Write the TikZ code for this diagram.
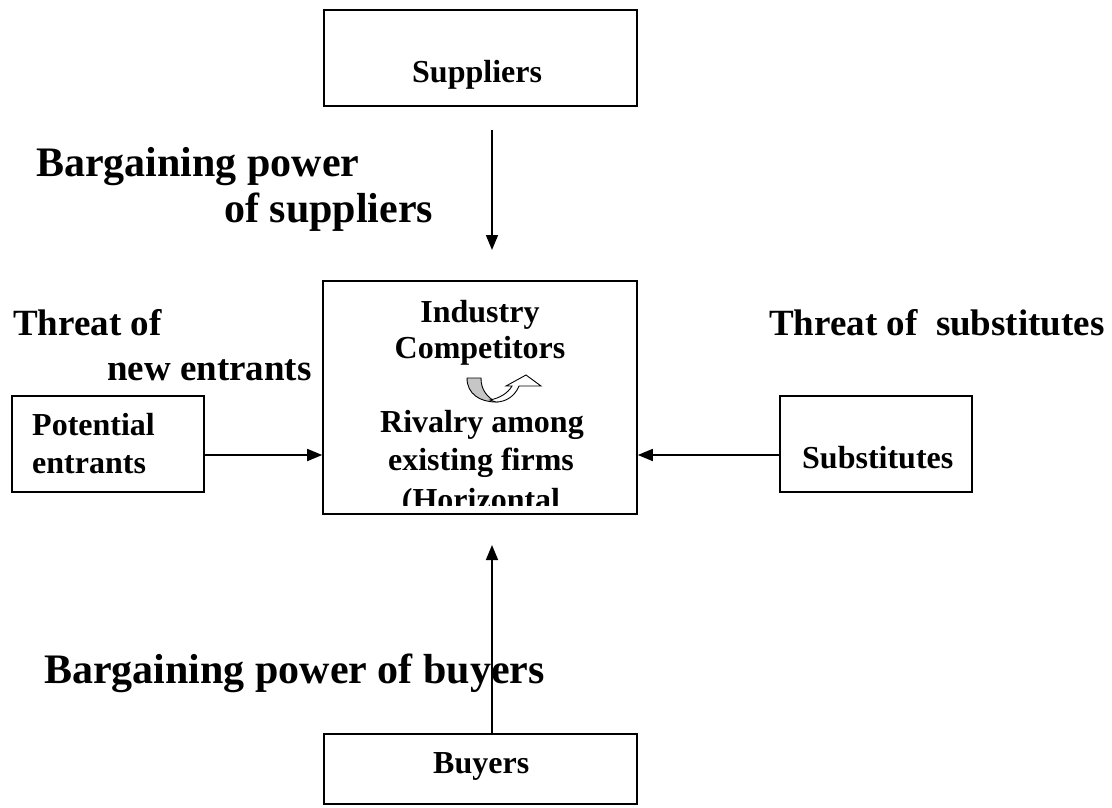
\documentclass[tikz,border=0pt]{standalone}
\usepackage{fontspec}
\setmainfont{Liberation Serif}
\usetikzlibrary{arrows.meta}
\tikzset{
  box/.style={draw, line width=1.6pt, inner sep=0pt},
  small/.style={font=\fontsize{32}{37}\selectfont\bfseries, inner sep=0pt},
  big/.style={font=\fontsize{42}{48}\selectfont\bfseries, inner sep=0pt, anchor=base west},
  mid/.style={font=\fontsize{37}{43}\selectfont\bfseries, inner sep=0pt, anchor=base west},
  arr/.style={line width=1.6pt, -{Triangle[length=15pt,width=12pt]}},
}
\begin{document}
\begin{tikzpicture}[x=1pt,y=-1pt]
\useasboundingbox[fill=white] (0,0) rectangle (1112,807);
% boxes
\node[box, minimum width=313pt, minimum height=96pt] (sup) at (480.5,58) {};
\node[box, minimum width=314pt, minimum height=233pt] (comp) at (480,397.5) {};
\node[box, minimum width=192pt, minimum height=96pt] (pot) at (108,444) {};
\node[box, minimum width=192pt, minimum height=96pt] (subs) at (876,444) {};
\node[box, minimum width=313pt, minimum height=70pt] (buy) at (480.5,769) {};
% box texts
\node[small, anchor=base west] (tsup) at (412,82) {Suppliers};
\node[small, anchor=base west] (tpot1) at (32,435) {Potential};
\node[small, anchor=base west] (tpot2) at (32,473) {entrants};
\node[small, anchor=base west] (tsubs) at (802,468) {Substitutes};
\node[small, anchor=base west] (tbuy) at (433,773) {Buyers};
\begin{scope}
\clip (323,281) rectangle (637,505);
\node[small, anchor=base] (c1) at (480,322) {Industry};
\node[small, anchor=base] (c2) at (480,358) {Competitors};
\node[small, anchor=base] (c3) at (482,432) {Rivalry among};
\node[small, anchor=base] (c4) at (481,470) {existing firms};
\node[small, anchor=base] (c5) at (481,510) {(Horizontal};
\end{scope}
% curved arrow icon
\filldraw[fill=gray!45, line width=0.9pt] (467,378) .. controls (467,394) and (480,402) .. (496,402)
  .. controls (487,397) and (481,390) .. (481,378) -- cycle;
\filldraw[fill=white, line width=0.9pt] (490,400) .. controls (500,398) and (508,393) .. (512,386)
  -- (506,386) -- (526,375) -- (541,386) -- (519,386)
  .. controls (515,396) and (506,402) .. (496,402) -- cycle;
% big labels
\node[big] (bps1) at (36,176) {Bargaining power};
\node[big] (bps2) at (224,222) {of suppliers};
\node[mid] (tn1) at (13,335) {Threat of};
\node[mid] (tn2) at (107,380) {new entrants};
\node[mid] (ts) at (769,335) {Threat of\ \ substitutes};
\node[big] (bpb) at (44,683) {Bargaining power of buyers};
% arrows
\coordinate (s1) at (492,130);
\coordinate (s2) at (492,250);
\coordinate (b2) at (492,545);
\draw[arr] (s1) -- (s2);
\draw[arr] (pot.east |- 0,455) -- (comp.west |- 0,455);
\draw[arr] (subs.west |- 0,455) -- (comp.east |- 0,455);
\draw[arr] (buy.north -| s1) -- (b2);
\end{tikzpicture}
\end{document}
